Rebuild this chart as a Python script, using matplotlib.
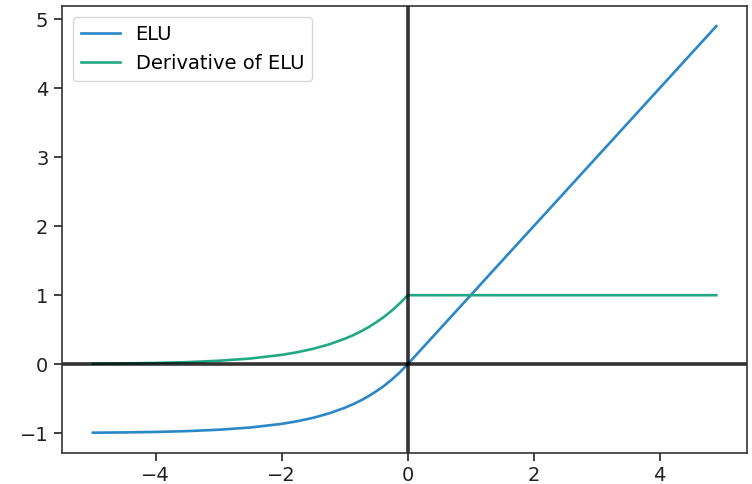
import matplotlib
matplotlib.use("Agg")
import matplotlib.pyplot as plt

# values
x_vals = [-5.0, -4.5, -4.0, -3.5, -3.0, -2.5, -2.0, -1.75, -1.5, -1.25, -1.0,
          -0.875, -0.75, -0.625, -0.5, -0.375, -0.25, -0.125, 0.0, 4.9]
elu_vals = [-0.993, -0.989, -0.982, -0.970, -0.950, -0.918, -0.865, -0.826,
            -0.777, -0.713, -0.632, -0.583, -0.528, -0.465, -0.393, -0.313,
            -0.221, -0.118, 0.0, 4.9]
deriv_x = [-5.0, -4.5, -4.0, -3.5, -3.0, -2.5, -2.0, -1.75, -1.5, -1.25, -1.0,
           -0.875, -0.75, -0.625, -0.5, -0.375, -0.25, -0.125, 0.0, 0.05, 4.9]
deriv_vals = [0.007, 0.011, 0.018, 0.030, 0.050, 0.082, 0.135, 0.174, 0.223,
              0.287, 0.368, 0.417, 0.472, 0.535, 0.607, 0.687, 0.779, 0.882,
              1.0, 1.0, 1.0]

fig, ax = plt.subplots(figsize=(7.52, 4.84), dpi=100)
fig.subplots_adjust(left=0.082, right=0.994, bottom=0.064, top=0.988)

ax.plot(x_vals, elu_vals, color="#2a87c8", lw=1.9, label="ELU")
ax.plot(deriv_x, deriv_vals, color="#22a884", lw=1.9, label="Derivative of ELU")
ax.axhline(0, color="black", alpha=0.8, lw=2.6)
ax.axvline(0, color="black", alpha=0.8, lw=2.6)

ax.tick_params(labelsize=14, width=1.2, length=6, colors="#222222")
for sp in ax.spines.values():
    sp.set_linewidth(1.2)
    sp.set_color("#333333")
ax.legend(loc="upper left", fontsize=14, borderaxespad=0.6)

fig.savefig("out.png", dpi=100)
plt.close(fig)
